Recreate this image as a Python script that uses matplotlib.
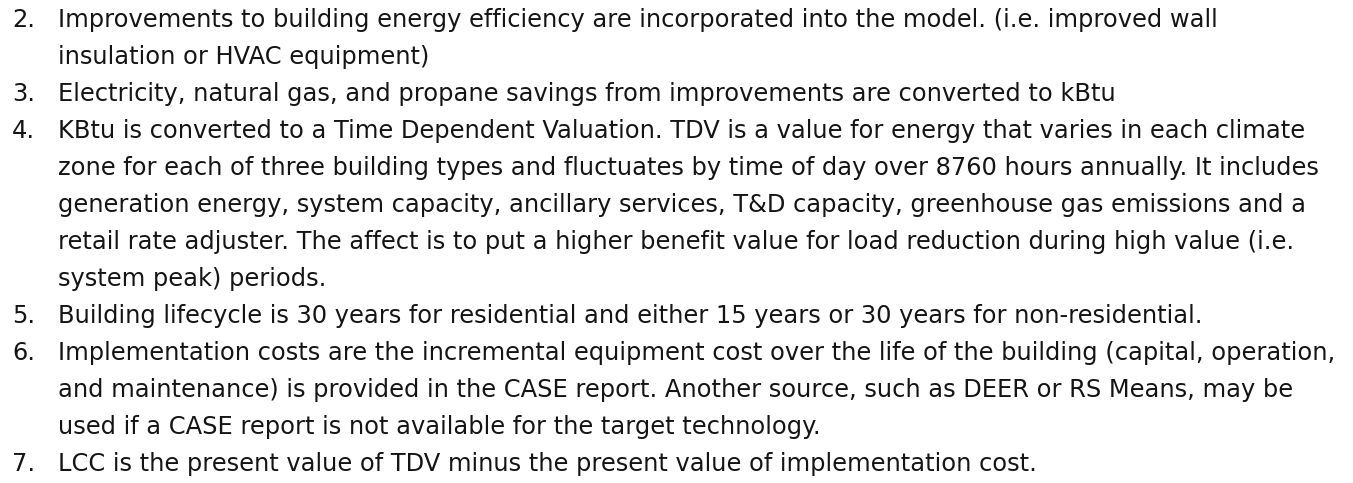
import matplotlib
matplotlib.use("Agg")
import matplotlib.pyplot as plt

# numbered list, one entry per item, wrapped lines as in the source
numbers = ["2.", "3.", "4.", "5.", "6.", "7."]
item_lines = [
    ["Improvements to building energy efficiency are incorporated into the model. (i.e. improved wall",
     "insulation or HVAC equipment)"],
    ["Electricity, natural gas, and propane savings from improvements are converted to kBtu"],
    ["KBtu is converted to a Time Dependent Valuation. TDV is a value for energy that varies in each climate",
     "zone for each of three building types and fluctuates by time of day over 8760 hours annually. It includes",
     "generation energy, system capacity, ancillary services, T&D capacity, greenhouse gas emissions and a",
     "retail rate adjuster. The affect is to put a higher benefit value for load reduction during high value (i.e.",
     "system peak) periods."],
    ["Building lifecycle is 30 years for residential and either 15 years or 30 years for non-residential."],
    ["Implementation costs are the incremental equipment cost over the life of the building (capital, operation,",
     "and maintenance) is provided in the CASE report. Another source, such as DEER or RS Means, may be",
     "used if a CASE report is not available for the target technology."],
    ["LCC is the present value of TDV minus the present value of implementation cost."],
]

W, H = 1353, 483
num_x, text_x = 12, 58
first_base, line_step = 27, 37
target_width = 1323 - text_x   # width of the "It includes" line
color = "#141414"

fig = plt.figure(figsize=(W / 100, H / 100), dpi=100)
fig.patch.set_facecolor("white")

# size the font so a long line spans the same width as in the source
probe = fig.text(0, 0, item_lines[2][1], fontsize=14, family="DejaVu Sans")
fig.canvas.draw()
w = probe.get_window_extent().width
probe.remove()
fs = 14 * target_width / w

row = 0
for num, lines in zip(numbers, item_lines):
    y = 1 - (first_base + row * line_step) / H
    fig.text(num_x / W, y, num, fontsize=fs, color=color, va="baseline", family="DejaVu Sans")
    for ln in lines:
        y = 1 - (first_base + row * line_step) / H
        fig.text(text_x / W, y, ln, fontsize=fs, color=color, va="baseline", family="DejaVu Sans")
        row += 1

fig.savefig("out.png", dpi=100, facecolor="white")
